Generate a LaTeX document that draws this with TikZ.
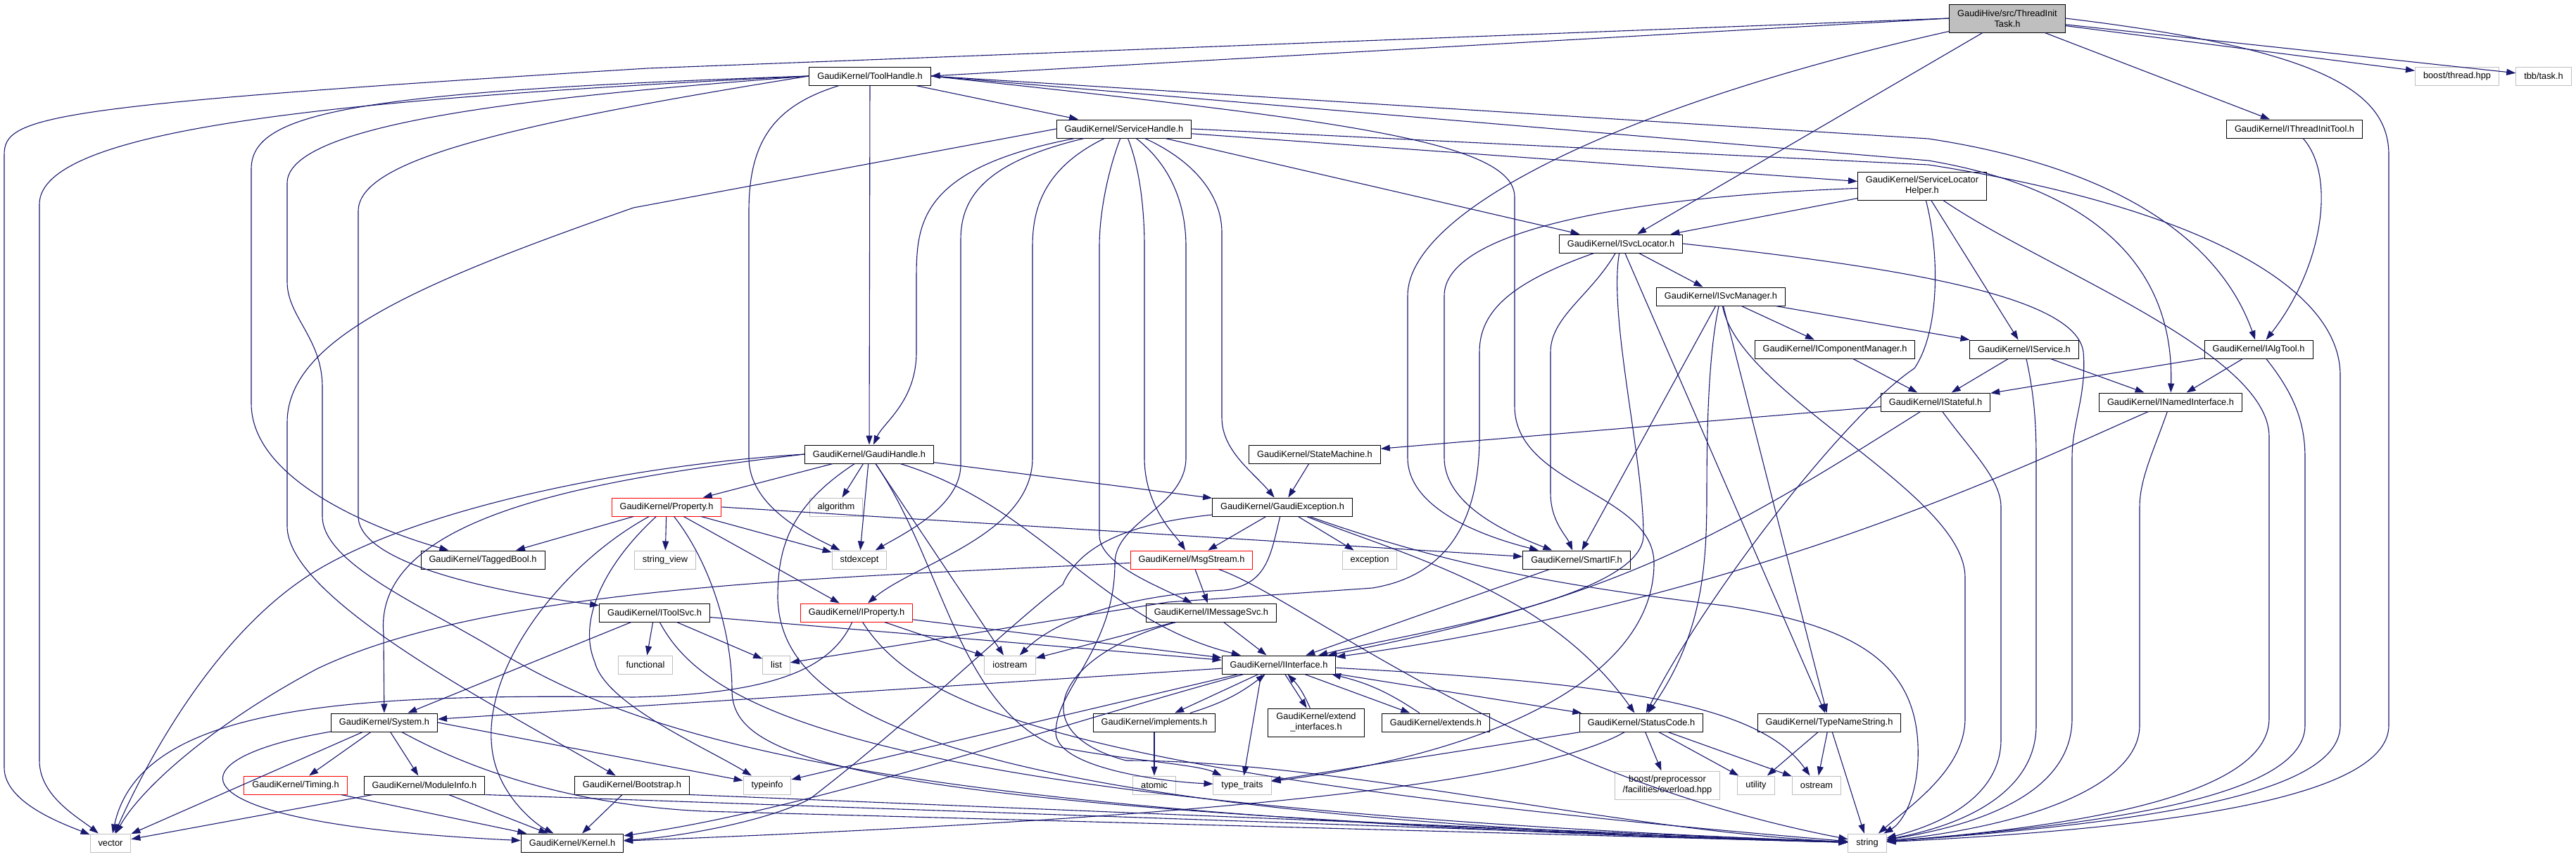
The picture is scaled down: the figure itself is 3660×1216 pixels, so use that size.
\documentclass[tikz,border=0pt]{standalone}
\usepackage{fontspec}
\setmainfont{Liberation Sans}
\usetikzlibrary{arrows.meta}
\definecolor{deplink}{HTML}{191970}
\definecolor{sysframe}{HTML}{BFBFBF}

\begin{document}
\begin{tikzpicture}[x=1pt,y=-1pt,
  hfile/.style={draw=black,line width=1pt,inner xsep=11.5pt,inner ysep=0pt,minimum height=26pt,
    font=\fontsize{12.8}{15}\selectfont,align=center},
  sysfile/.style={hfile,draw=sysframe},
  cutfile/.style={hfile,draw=red},
  twoline/.style={minimum height=40pt},
  dep/.style={draw=deplink,line width=1.1pt,-{Triangle[length=13pt,width=9pt]}}]
\useasboundingbox (0,0) rectangle (3660,1216);

% header nodes
\node[hfile,twoline,fill=sysframe] (task) at (2852,26) {GaudiHive/src/ThreadInit\\Task.h};
\node[hfile] (toolhandle) at (1236,108) {GaudiKernel/ToolHandle.h};
\node[hfile] (servicehandle) at (1597,183) {GaudiKernel/ServiceHandle.h};
\node[hfile] (threadinittool) at (3260,183) {GaudiKernel/IThreadInitTool.h};
\node[sysfile] (boostthread) at (3491,108) {boost/thread.hpp};
\node[sysfile] (tbbtask) at (3614,108) {tbb/task.h};
\node[hfile,twoline] (locatorhelper) at (2731,264) {GaudiKernel/ServiceLocator\\Helper.h};
\node[hfile] (svclocator) at (2303,346) {GaudiKernel/ISvcLocator.h};
\node[hfile] (svcmanager) at (2445,421) {GaudiKernel/ISvcManager.h};
\node[hfile] (compmanager) at (2607,496) {GaudiKernel/IComponentManager.h};
\node[hfile] (iservice) at (2876,496) {GaudiKernel/IService.h};
\node[hfile] (algtool) at (3209,496) {GaudiKernel/IAlgTool.h};
\node[hfile] (stateful) at (2750,571) {GaudiKernel/IStateful.h};
\node[hfile] (namediface) at (3084,571) {GaudiKernel/INamedInterface.h};
\node[hfile] (statemachine) at (1868,645) {GaudiKernel/StateMachine.h};
\node[hfile] (gaudihandle) at (1235,645) {GaudiKernel/GaudiHandle.h};
\node[hfile] (gaudiexc) at (1822,720) {GaudiKernel/GaudiException.h};
\node[cutfile] (property) at (947,720) {GaudiKernel/Property.h};
\node[sysfile] (algorithm) at (1188,720) {algorithm};
\node[hfile] (taggedbool) at (686,795) {GaudiKernel/TaggedBool.h};
\node[sysfile] (stringview) at (945,795) {string\_view};
\node[sysfile] (stdexcept) at (1221,795) {stdexcept};
\node[cutfile] (msgstream) at (1693,795) {GaudiKernel/MsgStream.h};
\node[sysfile] (exception) at (1946,795) {exception};
\node[hfile] (smartif) at (2240,795) {GaudiKernel/SmartIF.h};
\node[hfile] (toolsvc) at (930,870) {GaudiKernel/IToolSvc.h};
\node[cutfile] (iproperty) at (1217,870) {GaudiKernel/IProperty.h};
\node[hfile] (messagesvc) at (1721,870) {GaudiKernel/IMessageSvc.h};
\node[sysfile] (functional) at (917,944) {functional};
\node[sysfile] (list) at (1103,944) {list};
\node[sysfile] (iostream) at (1435,944) {iostream};
\node[hfile] (iiface) at (1817,944) {GaudiKernel/IInterface.h};
\node[hfile] (system) at (546,1026) {GaudiKernel/System.h};
\node[hfile] (implements) at (1640,1026) {GaudiKernel/implements.h};
\node[hfile,twoline] (extendif) at (1870,1026) {GaudiKernel/extend\\\_interfaces.h};
\node[hfile] (extends) at (2040,1026) {GaudiKernel/extends.h};
\node[hfile] (statuscode) at (2332,1026) {GaudiKernel/StatusCode.h};
\node[hfile] (typename) at (2599,1026) {GaudiKernel/TypeNameString.h};
\node[cutfile] (timing) at (420,1115) {GaudiKernel/Timing.h};
\node[hfile] (moduleinfo) at (603,1115) {GaudiKernel/ModuleInfo.h};
\node[hfile] (bootstrap) at (898,1115) {GaudiKernel/Bootstrap.h};
\node[sysfile] (typeinfo) at (1090,1115) {typeinfo};
\node[sysfile] (atomic) at (1640,1115) {atomic};
\node[sysfile] (typetraits) at (1765,1115) {type\_traits};
\node[sysfile,twoline] (overload) at (2369,1115) {boost/preprocessor\\/facilities/overload.hpp};
\node[sysfile] (utility) at (2495,1115) {utility};
\node[sysfile] (ostream) at (2581,1115) {ostream};
\node[sysfile] (vector) at (157,1197) {vector};
\node[hfile] (kernel) at (813,1197) {GaudiKernel/Kernel.h};
\node[sysfile] (string) at (2653,1197) {string};

% includes of ThreadInitTask.h
\draw[dep] (task.west) -- (toolhandle.east);
\draw[dep] (task) -- (threadinittool);
\draw[dep] (task) -- (svclocator);
\draw[dep] (task) -- (boostthread);
\draw[dep] (task) -- (tbbtask);
\draw[dep] (task) .. controls (2300,150) and (2000,300) .. (2000,420) -- (2000,650) .. controls (2000,720) and (2100,760) .. (smartif);
\draw[dep] (task.west) -- (920,97) .. controls (60,150) and (6,165) .. (6,220) -- (6,1090) .. controls (6,1140) and (90,1170) .. (vector);
\draw[dep] (task.east) .. controls (3300,70) and (3394,130) .. (3394,220) -- (3394,1030) .. controls (3394,1130) and (3100,1175) .. (string);

% ToolHandle.h
\draw[dep] (toolhandle) -- (servicehandle);
\draw[dep] (toolhandle) -- (gaudihandle);
\draw[dep] (toolhandle.west) .. controls (500,130) and (357,160) .. (357,240) -- (357,573) .. controls (357,690) and (560,760) .. (taggedbool);
\draw[dep] (toolhandle.west) .. controls (500,140) and (56,180) .. (56,290) -- (56,1080) .. controls (56,1130) and (110,1160) .. (vector);
\draw[dep] (toolhandle.west) .. controls (800,135) and (408,170) .. (408,260) -- (408,400) .. controls (408,450) and (458,480) .. (458,550) -- (458,733)
  .. controls (458,800) and (600,860) .. (700,920) .. controls (900,1040) and (1200,1160) .. (string);
\draw[dep] (toolhandle.west) .. controls (700,180) and (509,230) .. (509,300) -- (509,733) .. controls (509,800) and (700,840) .. (toolsvc);
\draw[dep] (toolhandle) .. controls (1100,150) and (1064,200) .. (1064,300) -- (1064,650) .. controls (1064,720) and (1150,760) .. (stdexcept);
\draw[dep] (toolhandle.east) -- (2740,197) .. controls (2990,235) and (3150,330) .. (algtool);
\draw[dep] (toolhandle.east) -- (2740,228) .. controls (2900,255) and (3090,330) .. (namediface);
\draw[dep] (toolhandle.east) .. controls (1900,170) and (2152,200) .. (2152,280) -- (2152,577) .. controls (2152,690) and (2350,700) .. (2350,800)
  .. controls (2350,950) and (2150,1065) .. (typetraits);

% ServiceHandle.h
\draw[dep] (servicehandle) .. controls (1302,240) and (1302,320) .. (1302,400) -- (1302,500) .. controls (1302,570) and (1255,600) .. (gaudihandle);
\draw[dep] (servicehandle) .. controls (1400,230) and (1365,280) .. (1365,340) -- (1365,660) .. controls (1365,720) and (1280,760) .. (stdexcept);
\draw[dep] (servicehandle) .. controls (1480,240) and (1467,300) .. (1467,350) -- (1467,650) .. controls (1467,760) and (1300,800) .. (iproperty);
\draw[dep] (servicehandle) .. controls (1575,240) and (1562,300) .. (1562,350) -- (1562,760) .. controls (1562,800) and (1640,830) .. (messagesvc);
\draw[dep] (servicehandle) .. controls (1620,240) and (1626,300) .. (1626,350) -- (1626,650) .. controls (1626,720) and (1670,760) .. (msgstream);
\draw[dep] (servicehandle) .. controls (1670,240) and (1685,300) .. (1685,350) -- (1685,650) .. controls (1685,720) and (1584,740) .. (1584,800)
  .. controls (1584,920) and (1500,980) .. (1500,1040) .. controls (1500,1090) and (1650,1110) .. (typetraits);
\draw[dep] (servicehandle) .. controls (1700,230) and (1736,280) .. (1736,330) -- (1736,593) .. controls (1736,640) and (1780,670) .. (gaudiexc);
\draw[dep] (servicehandle) -- (locatorhelper);
\draw[dep] (servicehandle) -- (svclocator);
\draw[dep] (servicehandle.east) -- (2740,234) .. controls (3100,290) and (3325,400) .. (3325,533) -- (3325,1030) .. controls (3325,1120) and (3100,1165) .. (string);
\draw[dep] (servicehandle.west) -- (900,295) .. controls (600,400) and (408,480) .. (408,600) -- (408,747) .. controls (408,850) and (700,1000) .. (bootstrap);

% interfaces around the service locator
\draw[dep] (threadinittool) .. controls (3320,250) and (3300,380) .. (algtool);
\draw[dep] (locatorhelper) -- (svclocator);
\draw[dep] (locatorhelper) .. controls (2300,280) and (2052,330) .. (2052,420) -- (2052,650) .. controls (2052,720) and (2150,760) .. (smartif);
\draw[dep] (locatorhelper) -- (iservice);
\draw[dep] (locatorhelper) .. controls (2756,360) and (2756,470) .. (2720,523) .. controls (2620,590) and (2420,850) .. (statuscode);
\draw[dep] (locatorhelper) .. controls (2900,380) and (3224,500) .. (3224,620) -- (3224,1020) .. controls (3224,1120) and (3000,1170) .. (string);
\draw[dep] (svclocator) -- (svcmanager);
\draw[dep] (svclocator.east) .. controls (2700,380) and (2950,420) .. (2960,500) .. controls (2965,560) and (2944,600) .. (2944,650) -- (2944,1020)
  .. controls (2944,1110) and (2850,1165) .. (string);
\draw[dep] (svclocator) .. controls (2150,400) and (2102,440) .. (2102,500) -- (2102,620) .. controls (2102,760) and (2040,820) .. (1950,835)
  -- (1660,855) -- (list);
\draw[dep] (svclocator) .. controls (2260,420) and (2203,450) .. (2203,500) -- (2203,700) .. controls (2203,740) and (2225,760) .. (smartif);
\draw[dep] (svclocator) .. controls (2285,450) and (2335,650) .. (2335,760) .. controls (2335,850) and (2000,900) .. (iiface);
\draw[dep] (svclocator) -- (typename);
\draw[dep] (svcmanager) -- (compmanager);
\draw[dep] (svcmanager) -- (iservice);
\draw[dep] (svcmanager) -- (smartif);
\draw[dep] (svcmanager) -- (typename);
\draw[dep] (svcmanager) .. controls (2428,500) and (2425,600) .. (2425,700) .. controls (2425,800) and (2420,900) .. (statuscode);
\draw[dep] (svcmanager) .. controls (2470,560) and (2792,700) .. (2792,820) -- (2792,1020) .. controls (2792,1090) and (2720,1140) .. (string);
\draw[dep] (compmanager) -- (stateful);
\draw[dep] (iservice) -- (stateful);
\draw[dep] (iservice) -- (namediface);
\draw[dep] (iservice) .. controls (2890,560) and (2893,600) .. (2893,650) -- (2893,1030) .. controls (2893,1120) and (2800,1170) .. (string);
\draw[dep] (algtool) -- (stateful);
\draw[dep] (algtool) -- (namediface);
\draw[dep] (algtool) .. controls (3260,560) and (3275,600) .. (3275,650) -- (3275,1030) .. controls (3275,1130) and (3000,1170) .. (string);
\draw[dep] (stateful) -- (statemachine);
\draw[dep] (stateful) .. controls (2450,760) and (2300,850) .. (iiface);
\draw[dep] (stateful) .. controls (2800,640) and (2843,680) .. (2843,720) -- (2843,1050) .. controls (2843,1130) and (2760,1170) .. (string);
\draw[dep] (namediface) .. controls (2900,650) and (2500,850) .. (iiface);
\draw[dep] (namediface) .. controls (3060,640) and (3040,680) .. (3040,720) -- (3040,1030) .. controls (3040,1110) and (2900,1170) .. (string);
\draw[dep] (statemachine) -- (gaudiexc);

% GaudiHandle.h and Property.h
\draw[dep] (gaudihandle) -- (property);
\draw[dep] (gaudihandle) -- (algorithm);
\draw[dep] (gaudihandle) -- (stdexcept);
\draw[dep] (gaudihandle) -- (gaudiexc);
\draw[dep] (gaudihandle) -- (iostream);
\draw[dep] (gaudihandle) .. controls (1480,720) and (1560,880) .. (iiface);
\draw[dep] (gaudihandle) .. controls (1340,800) and (1360,1000) .. (1500,1060) .. controls (1600,1080) and (1700,1085) .. (typetraits);
\draw[dep] (gaudihandle) .. controls (1120,720) and (1105,780) .. (1105,850) .. controls (1110,1000) and (1300,1160) .. (string);
\draw[dep] (gaudihandle.west) .. controls (900,660) and (600,720) .. (450,810) .. controls (300,900) and (200,1100) .. (vector);
\draw[dep] (gaudihandle.west) .. controls (850,680) and (530,730) .. (545,900) -- (system);
\draw[dep] (property) -- (taggedbool);
\draw[dep] (property) -- (stringview);
\draw[dep] (property) -- (stdexcept);
\draw[dep] (property.east) -- (smartif);
\draw[dep] (property) -- (iproperty);
\draw[dep] (property) .. controls (800,800) and (680,950) .. (700,1070) .. controls (710,1130) and (760,1170) .. (kernel);
\draw[dep] (property) .. controls (860,800) and (820,880) .. (845,940) .. controls (860,1000) and (1000,1060) .. (typeinfo);
\draw[dep] (property) .. controls (1010,800) and (1040,900) .. (1040,980) .. controls (1040,1080) and (1200,1150) .. (string);

% GaudiException.h and MsgStream.h
\draw[dep] (gaudiexc) -- (msgstream);
\draw[dep] (gaudiexc) -- (exception);
\draw[dep] (gaudiexc) .. controls (2000,790) and (2200,840) .. (statuscode);
\draw[dep] (gaudiexc) .. controls (1805,790) and (1800,830) .. (1740,838) .. controls (1600,845) and (1500,880) .. (iostream);
\draw[dep] (gaudiexc) .. controls (1640,740) and (1540,760) .. (1510,830) .. controls (1420,900) and (1300,1020) .. (1150,1135)
  .. controls (1080,1170) and (950,1190) .. (kernel);
\draw[dep] (gaudiexc) .. controls (2050,800) and (2200,830) .. (2450,860) .. controls (2650,890) and (2730,950) .. (2725,1080)
  .. controls (2722,1140) and (2700,1170) .. (string);
\draw[dep] (msgstream) -- (messagesvc);
\draw[dep] (msgstream) .. controls (1200,820) and (700,830) .. (450,950) .. controls (300,1030) and (200,1120) .. (vector);
\draw[dep] (msgstream) .. controls (1850,850) and (2150,1100) .. (string);
\draw[dep] (smartif) -- (iiface);

% service interfaces
\draw[dep] (toolsvc) -- (functional);
\draw[dep] (toolsvc) -- (list);
\draw[dep] (toolsvc) -- (iiface);
\draw[dep] (toolsvc) -- (system);
\draw[dep] (toolsvc) .. controls (1000,1000) and (1200,1140) .. (string);
\draw[dep] (iproperty) .. controls (1180,950) and (1100,985) .. (900,990) .. controls (500,985) and (200,1000) .. (vector);
\draw[dep] (iproperty) .. controls (1300,1000) and (1500,1100) .. (string);
\draw[dep] (iproperty) -- (iostream);
\draw[dep] (iproperty) -- (iiface);
\draw[dep] (messagesvc) -- (iostream);
\draw[dep] (messagesvc) -- (iiface);
\draw[dep] (messagesvc) .. controls (1500,930) and (1450,1040) .. (1600,1080) .. controls (1900,1080) and (2300,1180) .. (string);

% IInterface.h
\draw[dep] (iiface) -- (system);
\draw[dep] (iiface) -- (typeinfo);
\draw[dep] (iiface) .. controls (1500,1030) and (1150,1150) .. (kernel);
\draw[dep] (iiface) -- (implements);
\draw[dep] ([xshift=-25pt]iiface.south) -- (typetraits);
\draw[dep] (iiface) -- (extendif);
\draw[dep] (iiface) -- (extends);
\draw[dep] (iiface) -- (statuscode);
\draw[dep] (iiface) .. controls (2300,970) and (2500,1000) .. (ostream);
\draw[dep] (implements) to[bend right=10] (iiface);
\draw[dep] (extendif) to[bend right=10] (iiface);
\draw[dep] (extends) to[bend right=10] (iiface);
\draw[dep] (implements) -- (atomic);

% lowest level
\draw[dep] (system) -- (vector);
\draw[dep] (system) .. controls (230,1080) and (240,1170) .. (kernel);
\draw[dep] (system) -- (timing);
\draw[dep] (system) -- (moduleinfo);
\draw[dep] (system.east) -- (typeinfo);
\draw[dep] (system) .. controls (700,1110) and (850,1145) .. (1000,1152) -- (string);
\draw[dep] (timing) -- (kernel);
\draw[dep] (moduleinfo) -- (vector);
\draw[dep] (moduleinfo) -- (kernel);
\draw[dep] (moduleinfo.south east) -- (string);
\draw[dep] (bootstrap) -- (kernel);
\draw[dep] (bootstrap.south east) -- (string);
\draw[dep] (statuscode) .. controls (2150,1130) and (1500,1170) .. (kernel);
\draw[dep] (statuscode) -- (typetraits);
\draw[dep] (statuscode) -- (overload);
\draw[dep] (statuscode) -- (utility);
\draw[dep] (statuscode) -- (ostream);
\draw[dep] (typename) -- (utility);
\draw[dep] (typename) -- (ostream);
\draw[dep] (typename) -- (string);
\end{tikzpicture}
\end{document}
